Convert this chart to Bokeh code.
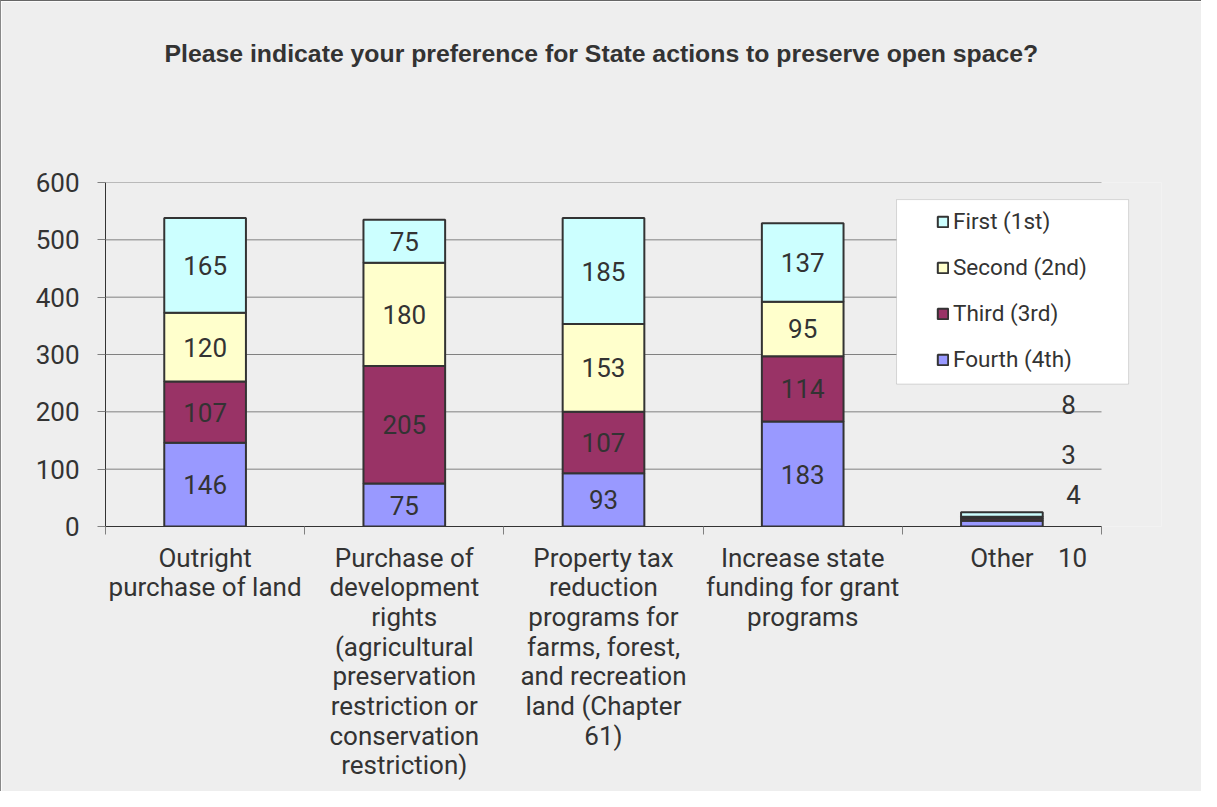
from bokeh.plotting import figure
from bokeh.models import (Range1d, FixedTicker, Legend, LegendItem, Label,
                          BoxAnnotation, ColumnDataSource, Title)
from bokeh.embed import file_html
from bokeh.resources import INLINE

# ---------------- data ----------------
title_text = "Please indicate your preference for State actions to preserve open space?"
categories = [
    "Outright\npurchase of land",
    "Purchase of\ndevelopment\nrights\n(agricultural\npreservation\nrestriction or\nconservation\nrestriction)",
    "Property tax\nreduction\nprograms for\nfarms, forest,\nand recreation\nland (Chapter\n61)",
    "Increase state\nfunding for grant\nprograms",
    "Other",
]
series_names = ["Fourth (4th)", "Third (3rd)", "Second (2nd)", "First (1st)"]
fourth = [146, 75, 93, 183, 10]
third = [107, 205, 107, 114, 4]
second = [120, 180, 153, 95, 3]
first = [165, 75, 185, 137, 8]
y_ticks = [0, 100, 200, 300, 400, 500, 600]

# ---------------- style ----------------
colors = ["#9999FF", "#993366", "#FFFFCC", "#CCFFFF"]
BG = "#EEEEEE"
TXT = "#333333"
FONT = "Roboto"
FS = "26px"

n = len(categories)
xs = [i + 0.5 for i in range(n)]
keys = ["s4", "s3", "s2", "s1"]
data = dict(x=xs, s4=fourth, s3=third, s2=second, s1=first)
source = ColumnDataSource(data)

# plot frame runs a little past the last category so the legend box is not cut;
# grid and axis are bounded to the category span
FRAME_L, FRAME_R, CAT_R = 104, 1160, 1100
x_end = n * (FRAME_R - FRAME_L) / (CAT_R - FRAME_L)

p = figure(width=1201, height=791, output_backend="svg", toolbar_location=None,
           x_range=Range1d(0, x_end), y_range=Range1d(0, 600),
           min_border_left=FRAME_L, min_border_right=1201 - FRAME_R, min_border_top=181,
           min_border_bottom=266, background_fill_color=BG, border_fill_color=BG)
p.outline_line_color = None
p.styles = {"border-left": "1px solid #888888", "border-top": "1px solid #666666"}

# spacer between plot frame and title
spacer = Title(text=" ", text_font_size="1px", standoff=113)
p.add_layout(spacer, "above")

# title
p.title.text = title_text
p.title.align = "left"
p.title.offset = 59
p.title.text_font = "Liberation Sans"
p.title.text_font_size = "24.8px"
p.title.text_font_style = "bold"
p.title.text_color = TXT
p.title.standoff = 0

# horizontal grid lines, limited to the category span
p.segment(x0=0, x1=n, y0=y_ticks, y1=y_ticks, line_color="#808080", line_width=1,
          level="underlay")

renderers = p.vbar_stack(keys, x="x", width=0.41, source=source, color=colors,
                         line_color=TXT, line_width=2)

# segment labels
series = [fourth, third, second, first]
for i in range(n - 1):
    base = 0
    for s in series:
        v = s[i]
        lab = Label(x=xs[i], y=base + v / 2, text=str(v), text_align="center",
                    text_baseline="middle", text_font=FONT,
                    text_font_size=FS, text_color=TXT)
        p.add_layout(lab)
        base += v

# "Other" labels: placed outside to the right, as in the original
other_label_y = [56, 126, 213]
other_label_dx = [0.36, 0.335, 0.335]
for s, yy, dx in zip(series[1:], other_label_y, other_label_dx):
    lab = Label(x=xs[-1] + dx, y=yy, text=str(s[-1]), text_align="center",
                text_baseline="middle", text_font=FONT,
                text_font_size=FS, text_color=TXT)
    p.add_layout(lab)
other_fourth_x = xs[-1] + 0.355   # "10" label sits below the axis, beside "Other"

# axes
p.yaxis.ticker = FixedTicker(ticks=y_ticks)
p.yaxis.major_label_text_font = FONT
p.yaxis.major_label_text_font_size = FS
p.yaxis.major_label_text_color = TXT
p.yaxis.axis_line_color = TXT
p.yaxis.major_tick_line_color = "#808080"
p.yaxis.major_tick_out = 8
p.yaxis.major_tick_in = 0
p.yaxis.minor_tick_line_color = None
p.yaxis.major_label_standoff = 18

p.xaxis.bounds = (0, n)
p.xaxis.ticker = FixedTicker(ticks=xs + [other_fourth_x], minor_ticks=list(range(n + 1)))
overrides = {x: c for x, c in zip(xs, categories)}
overrides[other_fourth_x] = str(fourth[-1])
p.xaxis.major_label_overrides = overrides
p.xaxis.major_label_text_font = FONT
p.xaxis.major_label_text_font_size = FS
p.xaxis.major_label_text_color = TXT
p.xaxis.major_label_text_align = "center"
p.xaxis.major_label_text_line_height = 0.99
p.xaxis.axis_line_color = TXT
p.xaxis.major_tick_line_color = None
p.xaxis.minor_tick_line_color = "#808080"
p.xaxis.minor_tick_out = 8
p.xaxis.minor_tick_in = 0
p.xaxis.major_label_standoff = 8

p.grid.grid_line_color = None

# legend frame: white bordered box behind the legend entries
box = BoxAnnotation(left=3.971, right=5.136, top=570.2, bottom=248.4,
                    fill_color="white", fill_alpha=1.0, line_color="#888888",
                    line_width=1)
p.add_layout(box)

items = [LegendItem(label=name, renderers=[r]) for name, r in zip(series_names, renderers)]
items.reverse()
legend = Legend(items=items, location=(831, 154), padding=0, margin=0, spacing=20,
                glyph_width=13, glyph_height=13, label_height=22,
                label_standoff=4, label_text_font=FONT, label_text_font_size="22.5px",
                label_text_color=TXT, background_fill_alpha=0, border_line_alpha=0)
p.add_layout(legend, "center")

html = file_html(p, INLINE)
html = html.replace("<body>", '<body style="background-color:#EEEEEE">', 1)
open("out.html", "w").write(html)
